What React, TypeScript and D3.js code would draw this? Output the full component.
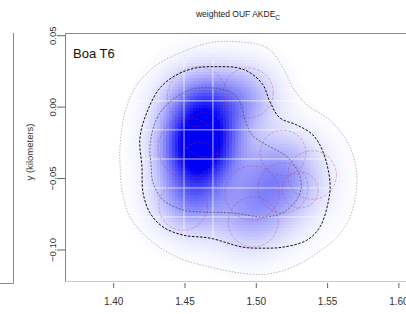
import * as d3 from 'd3';

// axis ticks
const xTicks = [1.40, 1.45, 1.50, 1.55, 1.60];
const yTicks = [0.05, 0.00, -0.05, -0.10];

// density components: [x, y, sigma, weight]
const blobs: [number, number, number, number][] = [
  [1.460, -0.030, 0.016, 1.0],
  [1.463, -0.003, 0.017, 0.65],
  [1.515, -0.050, 0.019, 0.38],
  [1.455, -0.062, 0.016, 0.4],
  [1.495, -0.075, 0.017, 0.22],
  [1.492, 0.006, 0.015, 0.22],
];

// contours (km)
const outerContour: [number, number][] = [
  [1.4865, 0.0458], [1.5075, 0.0416], [1.5187, 0.0276], [1.5257, 0.0135], [1.5355, 0.0016],
  [1.5495, -0.0075], [1.5608, -0.0195], [1.5678, -0.0334], [1.5706, -0.0531], [1.5657, -0.0769],
  [1.5566, -0.0909], [1.5426, -0.1021], [1.5285, -0.1106], [1.5117, -0.1162], [1.4956, -0.1169],
  [1.4675, -0.1119], [1.4444, -0.1049], [1.4255, -0.0930], [1.4114, -0.0769], [1.4058, -0.0580],
  [1.4044, -0.0391], [1.4044, -0.0285], [1.4079, -0.0033], [1.4163, 0.0156], [1.4304, 0.0297],
  [1.4486, 0.0388], [1.4675, 0.0451],
];
const midContour: [number, number][] = [
  [1.4184, -0.0216], [1.4234, -0.0034], [1.4325, 0.0135], [1.4444, 0.0227], [1.4584, 0.0276],
  [1.4724, 0.0283], [1.4865, 0.0276], [1.4956, 0.0241], [1.5047, 0.0156], [1.5096, 0.0037],
  [1.5166, -0.0076], [1.5285, -0.0125], [1.5397, -0.0195], [1.5468, -0.0313], [1.5517, -0.0531],
  [1.5503, -0.0671], [1.5446, -0.0839], [1.5355, -0.0931], [1.5187, -0.0980], [1.5047, -0.0987],
  [1.4907, -0.0980], [1.4675, -0.0917], [1.4487, -0.0896], [1.4346, -0.0839], [1.4255, -0.0741],
  [1.4206, -0.0601], [1.4198, -0.0419],
];
const innerContour: [number, number][] = [
  [1.4255, -0.0265], [1.4304, -0.0076], [1.4395, 0.0037], [1.4535, 0.0121], [1.4675, 0.0135],
  [1.4816, 0.0107], [1.4886, 0.0037], [1.4921, -0.0090], [1.4971, -0.0195], [1.5047, -0.0251],
  [1.5216, -0.0349], [1.5307, -0.0489], [1.5307, -0.0601], [1.5216, -0.0720], [1.5075, -0.0769],
  [1.4837, -0.0741], [1.4626, -0.0734], [1.4487, -0.0720], [1.4346, -0.0650], [1.4276, -0.0530],
  [1.4262, -0.0405],
];

// location error circles: [x, y, r]
const errCircles: [number, number, number][] = [
  [1.4586, 0.0072, 0.021], [1.4943, 0.0100, 0.0175], [1.4522, -0.0286, 0.021],
  [1.4641, -0.0195, 0.0155], [1.4487, -0.0692, 0.017], [1.4978, -0.0804, 0.0175],
  [1.4971, -0.0601, 0.019], [1.5188, -0.0321, 0.016], [1.5188, -0.0566, 0.0175],
  [1.5392, -0.0475, 0.017], [1.5308, -0.0580, 0.0125], [1.4606, -0.0370, 0.0125],
];

// image tile seams
const seamY = [0.0044, -0.0159, -0.0363, -0.0566, -0.0769];
const seamX = [1.4493, 1.4696];

const x = d3.scaleLinear().domain([1.4, 1.6]).range([113.7, 398.9]);
const y = d3.scaleLinear().domain([0.05, -0.10]).range([35.7, 250]);

const box = { left: 65.5, top: 33.5, right: 420, bottom: 281.5 };

const density = (px: number, py: number) =>
  d3.sum(blobs, ([mx, my, s, w]) => w * Math.exp(-((px - mx) ** 2 + (py - my) ** 2) / (2 * s * s)));

const App = () => {
  const step = 3;
  const cells: { cx: number; cy: number; d: number }[] = [];
  for (let cy = 36; cy < 281; cy += step) {
    for (let cx = 100; cx < 370; cx += step) {
      cells.push({ cx, cy, d: density(x.invert(cx + step / 2), y.invert(cy + step / 2)) });
    }
  }
  const dmax = d3.max(cells, c => c.d) || 1;
  const color = d3.interpolateRgb('#ffffff', '#0000f5');

  const line = d3.line<[number, number]>()
    .x(d => x(d[0]))
    .y(d => y(d[1]))
    .curve(d3.curveCatmullRomClosed);

  const font = 'Liberation Sans, Arial, sans-serif';

  return (
    <svg width={406} height={314} style={{ position: 'absolute', left: 0, top: 0 }}>
      <rect width={406} height={314} fill="#fff" />

      {/* previous panel remnant */}
      <path d="M13.5,33 V283.5 H0" fill="none" stroke="#888" strokeWidth={1} />

      <text x={238} y={17} textAnchor="middle" fontFamily={font} fontSize={8.5} fill="#222">
        weighted OUF AKDE<tspan fontSize={6.5} dy={2.5}>C</tspan>
      </text>

      <g shapeRendering="crispEdges">
        {cells.filter(c => c.d / dmax > 0.004).map((c, i) => (
          <rect key={i} x={c.cx} y={c.cy} width={step} height={step}
            fill={color(Math.min(1, 1.35 * Math.pow(c.d / dmax, 0.9)))} />
        ))}
      </g>

      <g stroke="#fff" strokeWidth={1} opacity={0.7}>
        {seamY.map(v => <line key={v} x1={135} x2={340} y1={y(v)} y2={y(v)} />)}
        {seamX.map(v => <line key={v} x1={x(v)} x2={x(v)} y1={60} y2={240} />)}
      </g>

      <g fill="none" stroke="#c0305a" strokeWidth={0.7} strokeOpacity={0.45} strokeDasharray="3,1.5">
        {errCircles.map(([cx, cy, r], i) => (
          <circle key={i} cx={x(cx)} cy={y(cy)} r={x(1.4 + r) - x(1.4)} />
        ))}
      </g>

      <path d={line(outerContour) || ''} fill="none" stroke="#aaa" strokeWidth={0.8} strokeDasharray="1.5,1.5" />
      <path d={line(midContour) || ''} fill="none" stroke="#111" strokeWidth={1} strokeDasharray="2.5,1.5" />
      <path d={line(innerContour) || ''} fill="none" stroke="#556" strokeWidth={0.8} strokeDasharray="2,1.5" />

      <path d={`M${box.left},${box.bottom} V${box.top} H${box.right}`} fill="none" stroke="#888" strokeWidth={1} />
      <line x1={box.left} x2={box.right} y1={box.bottom} y2={box.bottom} stroke="#ccc" strokeWidth={1} />

      <text x={73} y={58} fontFamily={font} fontSize={13} fill="#111">Boa T6</text>

      {yTicks.map(t => (
        <g key={t}>
          <line x1={57} x2={box.left} y1={y(t)} y2={y(t)} stroke="#666" />
          <text transform={`translate(56,${y(t)}) rotate(-90)`} textAnchor="middle"
            fontFamily={font} fontSize={9.5} fill="#333">{d3.format('.2f')(t)}</text>
        </g>
      ))}
      <text transform="translate(33,152) rotate(-90)" textAnchor="middle" fontFamily={font} fontSize={9.5} fill="#333">
        y (kilometers)
      </text>

      {xTicks.map(t => (
        <g key={t}>
          <line x1={x(t)} x2={x(t)} y1={283} y2={288} stroke="#666" />
          <text x={x(t)} y={304.5} textAnchor="middle" fontFamily={font} fontSize={10} fill="#333">
            {d3.format('.2f')(t)}
          </text>
        </g>
      ))}
    </svg>
  );
};

export default App;
